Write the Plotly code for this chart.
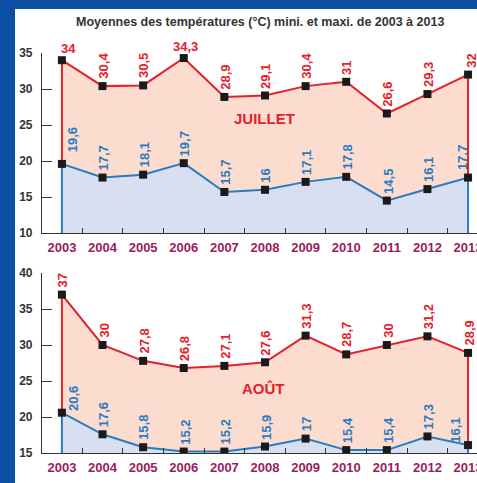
import plotly.graph_objects as go

years = ["2003", "2004", "2005", "2006", "2007", "2008", "2009", "2010", "2011", "2012", "2013"]
juillet_max = [34, 30.4, 30.5, 34.3, 28.9, 29.1, 30.4, 31, 26.6, 29.3, 32]
juillet_min = [19.6, 17.7, 18.1, 19.7, 15.7, 16, 17.1, 17.8, 14.5, 16.1, 17.7]
aout_max = [37, 30, 27.8, 26.8, 27.1, 27.6, 31.3, 28.7, 30, 31.2, 28.9]
aout_min = [20.6, 17.6, 15.8, 15.2, 15.2, 15.9, 17, 15.4, 15.4, 17.3, 16.1]
yticks_top = [10, 15, 20, 25, 30, 35]
yticks_bot = [15, 20, 25, 30, 35, 40]

W, H = 477, 483
RED = "#e4202b"
BLUE = "#2b7bbf"
RED_FILL = "#fbdccf"
BLUE_FILL = "#d8dff0"
AXIS = "#333333"
XLAB = "#9b1c5c"
BORDER = "#0b4fa2"

def fmt(v):
    return ("%g" % v).replace(".", ",")

fig = go.Figure()

def add_panel(n, vmax, vmin, ylo):
    xa = "x" if n == 1 else "x%d" % n
    ya = "y" if n == 1 else "y%d" % n
    fig.add_trace(go.Scatter(x=years, y=vmin, fill="tozeroy", fillcolor=BLUE_FILL,
                             mode="none", xaxis=xa, yaxis=ya, showlegend=False, hoverinfo="skip"))
    fig.add_trace(go.Scatter(x=years + years[::-1], y=vmax + vmin[::-1], fill="toself",
                             fillcolor=RED_FILL, mode="none", xaxis=xa, yaxis=ya,
                             showlegend=False, hoverinfo="skip"))
    fig.add_trace(go.Scatter(x=[years[0]] + years + [years[-1]], y=[ylo] + vmin + [ylo],
                             mode="lines", line=dict(color=BLUE, width=2),
                             xaxis=xa, yaxis=ya, showlegend=False, hoverinfo="skip"))
    fig.add_trace(go.Scatter(x=[years[0]] + years + [years[-1]], y=[vmin[0]] + vmax + [vmin[-1]],
                             mode="lines", line=dict(color=RED, width=2),
                             xaxis=xa, yaxis=ya, showlegend=False, hoverinfo="skip"))
    for vals in (vmin, vmax):
        fig.add_trace(go.Scatter(x=years, y=vals, mode="markers",
                                 marker=dict(symbol="square", size=8, color="#1a1a1a"),
                                 xaxis=xa, yaxis=ya, showlegend=False, hoverinfo="skip"))

add_panel(1, juillet_max, juillet_min, yticks_top[0])
add_panel(2, aout_max, aout_min, yticks_bot[0])

LABFONT = "Liberation Sans, Arial, sans-serif"

def axis_common():
    return dict(showline=True, linecolor=AXIS, linewidth=1.2, ticks="inside",
                tickcolor=AXIS, showgrid=False, zeroline=False, fixedrange=True,
                automargin=False)

x_dom = [42 / W, 1.0]
x_rng = [-0.49, 10.22]
top_dom = [1 - 233 / H, 1 - 53 / H]
bot_dom = [1 - 453 / H, 1 - 273 / H]

def xaxis(anchor):
    return dict(**axis_common(), type="category", tickson="boundaries", ticklen=5,
                tickwidth=1, range=x_rng, domain=x_dom, anchor=anchor, tickangle=0,
                tickvals=years, ticktext=["<b>%s</b>" % y for y in years],
                ticklabelstandoff=2,
                tickfont=dict(family=LABFONT, size=13, color=XLAB))

def yaxis(anchor, rng, vals, dom):
    return dict(**axis_common(), range=rng, tickvals=vals,
                ticktext=["<b>%d</b>" % v for v in vals], ticklen=10, tickwidth=1.2,
                domain=dom, anchor=anchor, ticklabelstandoff=6,
                tickfont=dict(family=LABFONT, size=12, color=AXIS))

fig.update_layout(
    width=W, height=H, margin=dict(l=0, r=0, t=0, b=0, autoexpand=False),
    paper_bgcolor=BORDER, plot_bgcolor="rgba(0,0,0,0)",
    xaxis=xaxis("y"),
    yaxis=yaxis("x", [yticks_top[0], yticks_top[-1]], yticks_top, top_dom),
    xaxis2=xaxis("y2"),
    yaxis2=yaxis("x2", [yticks_bot[0], yticks_bot[-1]], yticks_bot, bot_dom),
)

fig.add_shape(type="rect", xref="paper", yref="paper", x0=15 / W, x1=1.0, y0=0, y1=1 - 9 / H,
              fillcolor="white", line=dict(width=0), layer="below")

annots = []
annots.append(dict(xref="paper", yref="paper", x=260 / W, y=1 - 22 / H, showarrow=False,
                   xanchor="center", yanchor="middle",
                   text="<b>Moyennes des températures (°C) mini. et maxi. de 2003 à 2013</b>",
                   font=dict(family=LABFONT, size=12.5, color="#333333")))
annots.append(dict(xref="paper", yref="paper", x=264 / W, y=1 - 119 / H, showarrow=False,
                   xanchor="center", yanchor="middle",
                   text="<b>JUILLET</b>", font=dict(family=LABFONT, size=15, color=RED)))
annots.append(dict(xref="paper", yref="paper", x=263 / W, y=1 - 388 / H, showarrow=False,
                   xanchor="center", yanchor="middle",
                   text="<b>AOÛT</b>", font=dict(family=LABFONT, size=15, color=RED)))

def labels(xref, yref, vals, color, special):
    for i, v in enumerate(vals):
        sp = special.get(i, {})
        annots.append(dict(xref=xref, yref=yref, x=i, y=v, showarrow=False,
                           text="<b>%s</b>" % fmt(v), textangle=sp.get("angle", -90),
                           xanchor=sp.get("xanchor", "center"), yanchor="bottom",
                           xshift=sp.get("dx", 1), yshift=sp.get("dy", 5),
                           font=dict(family=LABFONT, size=13, color=color)))

labels("x", "y", juillet_max, RED, {0: dict(angle=0, xanchor="left", dx=-3, dy=2),
                                    3: dict(angle=0, dx=2, dy=2),
                                    10: dict(dx=4)})
labels("x", "y", juillet_min, BLUE, {0: dict(dx=10, dy=10), 10: dict(dx=-6)})
labels("x2", "y2", aout_max, RED, {})
labels("x2", "y2", aout_min, BLUE, {0: dict(dx=11, dy=0), 10: dict(dx=-12, dy=0)})

fig.update_layout(annotations=annots)
fig.write_html("out.html", config={"displayModeBar": False},
               post_script="document.body.style.margin='0px';"
                           "document.body.style.background='%s';" % BORDER)
